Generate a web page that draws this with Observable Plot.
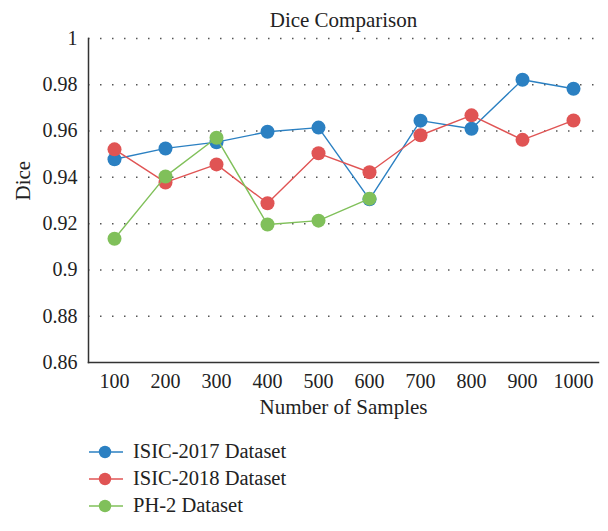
<!DOCTYPE html>
<html>
<head>
<meta charset="utf-8">
<script src="https://cdn.jsdelivr.net/npm/d3@7"></script>
<script src="https://cdn.jsdelivr.net/npm/@observablehq/plot@0.6"></script>
<style>
  body { margin: 0; background: #fff; font-family: "Liberation Serif", serif; }
  #legend { position: absolute; left: 88px; top: 438px; font-size: 20.5px; color: #222; }
  .row { display: flex; align-items: center; height: 27px; }
  .row svg { margin-right: 9px; }
</style>
</head>
<body>
<div id="chart"></div>
<div id="legend"></div>
<script>
const samples = [100, 200, 300, 400, 500, 600, 700, 800, 900, 1000];
const isic2017 = [0.9478, 0.9525, 0.9552, 0.9597, 0.9615, 0.9305, 0.9645, 0.9610, 0.9822, 0.9783];
const isic2018 = [0.9521, 0.9378, 0.9456, 0.9288, 0.9504, 0.9422, 0.9582, 0.9668, 0.9562, 0.9646];
const ph2Samples = [100, 200, 300, 400, 500, 600];
const ph2 = [0.9135, 0.9404, 0.9571, 0.9196, 0.9213, 0.9308];
const yTicks = [0.86, 0.88, 0.9, 0.92, 0.94, 0.96, 0.98, 1];
const seriesNames = ["ISIC-2017 Dataset", "ISIC-2018 Dataset", "PH-2 Dataset"];
const seriesColors = ["#2b80c2", "#e05454", "#80c05a"];
const FONT = "Liberation Serif, serif";

const data = [];
samples.forEach((s, i) => data.push({series: seriesNames[0], x: s, y: isic2017[i]}));
samples.forEach((s, i) => data.push({series: seriesNames[1], x: s, y: isic2018[i]}));
ph2Samples.forEach((s, i) => data.push({series: seriesNames[2], x: s, y: ph2[i]}));

const marks = [
  Plot.gridY(yTicks.slice(1), {stroke: "#555", strokeOpacity: 1, strokeWidth: 1.5, strokeDasharray: "1.5,10.5"}),
  Plot.axisY({ticks: yTicks, tickSize: 0, tickPadding: 11, tickFormat: d => String(+d.toFixed(2)), fontSize: 20, fontFamily: FONT, fill: "#222", label: null}),
  Plot.axisX({tickSize: 0, tickPadding: 11, tickFormat: d => String(d), fontSize: 20, fontFamily: FONT, fill: "#222", label: null}),
  Plot.frame({anchor: "left", stroke: "#333", strokeWidth: 1.5}),
  Plot.frame({anchor: "bottom", stroke: "#333", strokeWidth: 1.5}),
  Plot.text(["Dice Comparison"], {frameAnchor: "top", dy: -26, fontSize: 21, fontFamily: FONT, fill: "#222"}),
  Plot.text(["Number of Samples"], {frameAnchor: "bottom", dy: 51, fontSize: 21, fontFamily: FONT, fill: "#222"}),
  Plot.text(["Dice"], {frameAnchor: "left", rotate: -90, dx: -65, fontSize: 21, fontFamily: FONT, fill: "#222"})
];
seriesNames.forEach((name, k) => {
  const d = data.filter(r => r.series === name);
  marks.push(Plot.line(d, {x: "x", y: "y", stroke: seriesColors[k], strokeWidth: 1.4}));
  marks.push(Plot.dot(d, {x: "x", y: "y", fill: seriesColors[k], r: 7}));
});

const chart = Plot.plot({
  width: 608,
  height: 426,
  marginLeft: 88,
  marginRight: 10,
  marginTop: 38,
  marginBottom: 64,
  style: {fontFamily: FONT, fontSize: "20px", color: "#222", background: "#fff"},
  x: {type: "point", domain: samples, padding: 0.5},
  y: {domain: [0.86, 1]},
  marks
});
document.getElementById("chart").appendChild(chart);

const legend = document.getElementById("legend");
seriesNames.forEach((name, k) => {
  const row = document.createElement("div");
  row.className = "row";
  row.innerHTML = `<svg width="36" height="16"><line x1="1" x2="35" y1="8" y2="8" stroke="${seriesColors[k]}" stroke-width="1.6"/><circle cx="17" cy="8" r="6.2" fill="${seriesColors[k]}"/></svg><span>${name}</span>`;
  legend.appendChild(row);
});
</script>
</body>
</html>
